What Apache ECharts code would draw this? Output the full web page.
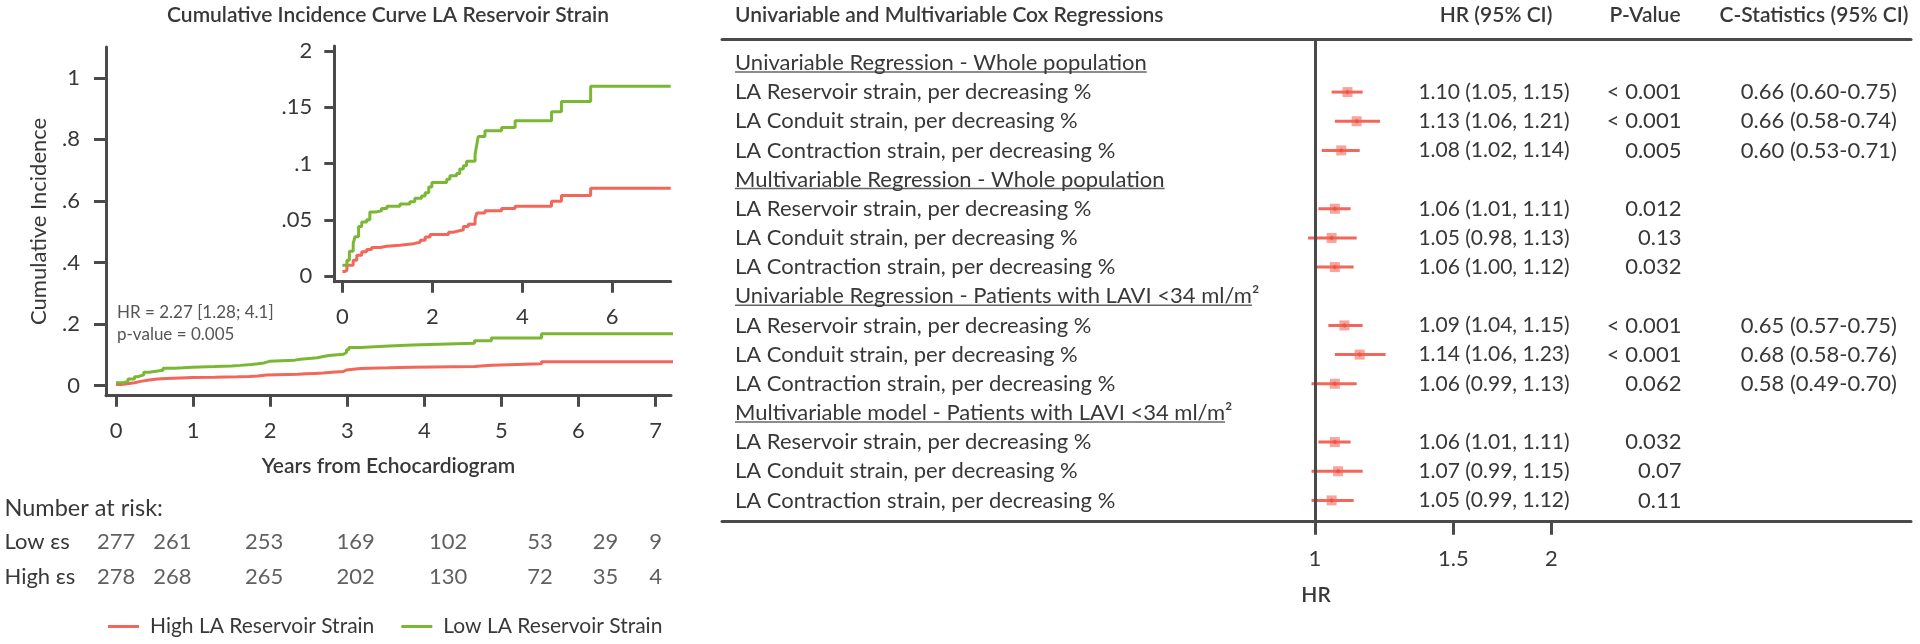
<!DOCTYPE html>
<html><head><meta charset="utf-8">
<script src="https://cdn.jsdelivr.net/npm/echarts@6/dist/echarts.min.js"></script>
<style>html,body{margin:0;padding:0;background:#fff}#c{width:1920px;height:644px}</style>
</head><body><div id="c"></div>
<script>
// ---------------- DATA ----------------
// Cumulative incidence step curves: [years, incidence]
const highStrain = [[0,0.004],[0.05,0.005],[0.1,0.0097],[0.24,0.014],[0.32,0.0185],[0.43,0.0215],[0.54,0.0235],[0.65,0.0253],[0.84,0.0265],[0.99,0.0274],[1.28,0.0288],[1.58,0.030],[1.73,0.0318],[1.84,0.0347],[1.95,0.037],[2.36,0.039],[2.47,0.040],[2.58,0.041],[2.69,0.044],[2.8,0.046],[2.95,0.051],[2.99,0.056],[3.17,0.058],[3.54,0.060],[3.84,0.062],[4.65,0.0665],[4.87,0.0715],[5.52,0.078],[7.3,0.078]];
const lowStrain = [[0,0.0097],[0.1,0.014],[0.155,0.022],[0.24,0.029],[0.28,0.035],[0.36,0.044],[0.43,0.048],[0.54,0.050],[0.61,0.057],[0.76,0.058],[0.87,0.060],[0.99,0.062],[1.28,0.064],[1.5,0.066],[1.61,0.069],[1.76,0.071],[1.84,0.074],[1.92,0.079],[1.99,0.083],[2.32,0.086],[2.39,0.089],[2.54,0.091],[2.61,0.095],[2.69,0.098],[2.76,0.102],[2.95,0.108],[2.99,0.117],[3.02,0.124],[3.17,0.129],[3.54,0.132],[3.84,0.138],[4.65,0.146],[4.87,0.155],[5.52,0.1685],[7.3,0.1685]];
const seriesNames = ['High LA Reservoir Strain','Low LA Reservoir Strain'];
const mainXTicks = [0,1,2,3,4,5,6,7];
const mainYTicks = [0,0.2,0.4,0.6,0.8,1];
const insetXTicks = [0,2,4,6];
const insetYTicks = [0,0.05,0.1,0.15,0.2];
const insetYLabels = ['0','.05','.1','.15','2'];
const hrLines = ['HR = 2.27 [1.28; 4.1]','p-value = 0.005'];
// Number at risk
const riskGroups = ['Low εs','High εs'];
const riskTimes = [0,0.73,1.92,3.11,4.31,5.5,6.35,7];
const riskLow = [277,261,253,169,102,53,29,9];
const riskHigh = [278,268,265,202,130,72,35,4];
// Forest plot rows (headers have null estimates)
const forestLabels = [
 'Univariable Regression - Whole population',
 'LA Reservoir strain, per decreasing %','LA Conduit strain, per decreasing %','LA Contraction strain, per decreasing %',
 'Multivariable Regression - Whole population',
 'LA Reservoir strain, per decreasing %','LA Conduit strain, per decreasing %','LA Contraction strain, per decreasing %',
 'Univariable Regression - Patients with LAVI <34 ml/m²',
 'LA Reservoir strain, per decreasing %','LA Conduit strain, per decreasing %','LA Contraction strain, per decreasing %',
 'Multivariable model - Patients with LAVI <34 ml/m²',
 'LA Reservoir strain, per decreasing %','LA Conduit strain, per decreasing %','LA Contraction strain, per decreasing %'
];
const hrEst  = [null,1.10,1.13,1.08,null,1.06,1.05,1.06,null,1.09,1.14,1.06,null,1.06,1.07,1.05];
const hrLow  = [null,1.05,1.06,1.02,null,1.01,0.98,1.00,null,1.04,1.06,0.99,null,1.01,0.99,0.99];
const hrHigh = [null,1.15,1.21,1.14,null,1.11,1.13,1.12,null,1.15,1.23,1.13,null,1.11,1.15,1.12];
const pValues = ['','< 0.001','< 0.001','0.005','','0.012','0.13','0.032','','< 0.001','< 0.001','0.062','','0.032','0.07','0.11'];
const cStats = ['','0.66 (0.60-0.75)','0.66 (0.58-0.74)','0.60 (0.53-0.71)','','','','','','0.65 (0.57-0.75)','0.68 (0.58-0.76)','0.58 (0.49-0.70)','','','',''];
const forestTicks = [1,1.5,2];
const columnHeads = ['HR (95% CI)','P-Value','C-Statistics (95% CI)'];

// ---------------- STYLE ----------------
const FF = 'Lato, "Open Sans", sans-serif';
const TXT = '#383838';
const AX = '#4a4a4a';
const RED = '#f2675a';
const GREEN = '#7ab834';
const FS = 22;
const HEAD = '600 21px ' + FF;

const rowIdx = forestLabels.map((_, i) => i);
const hrText = hrEst.map((e, i) => e == null ? '' : `${e.toFixed(2)} (${hrLow[i].toFixed(2)}, ${hrHigh[i].toFixed(2)})`);

const chart = echarts.init(document.getElementById('c'));

function valAxis(o) {
  return Object.assign({
    type: 'value', splitLine: {show: false},
    axisLine: {show: true, onZero: false, lineStyle: {color: AX, width: 3}},
    axisTick: {show: true, lineStyle: {color: AX, width: 3}},
    axisLabel: {color: TXT, fontSize: FS, fontFamily: FF}
  }, o);
}
function forestCol(o, texts) {
  return Object.assign({
    type: 'value', gridIndex: 3, inverse: true, min: -0.81, max: 15.73,
    axisLine: {show: false, onZero: false}, axisTick: {show: false}, splitLine: {show: false},
    axisLabel: Object.assign({customValues: rowIdx, formatter: v => texts[v] || '', color: TXT, fontSize: FS, fontFamily: FF}, o.axisLabel || {})
  }, o.base);
}

const option = {
  backgroundColor: '#fff',
  animation: false,
  textStyle: {fontFamily: FF},
  grid: [
    {left: 106, top: 47, width: 565, height: 348.7, outerBoundsMode: 'none'},
    {left: 334.3, top: 46, width: 336.4, height: 235.7, outerBoundsMode: 'none'},
    {left: 106, top: 524.2, width: 565, height: 70, outerBoundsMode: 'none'},
    {left: 722, top: 39.3, width: 1189, height: 482.4, outerBoundsMode: 'none'}
  ],
  xAxis: [
    valAxis({gridIndex: 0, min: -0.13, max: 7.2,
      axisTick: {show: true, customValues: mainXTicks, length: 11, lineStyle: {color: AX, width: 3}},
      axisLabel: {customValues: mainXTicks, margin: 24, color: TXT, fontSize: FS, fontFamily: FF},
      name: 'Years from Echocardiogram', nameLocation: 'middle', nameGap: 60,
      nameTextStyle: {color: TXT, fontSize: 21, fontWeight: 600, fontFamily: FF}}),
    valAxis({gridIndex: 1, min: -0.18, max: 7.3,
      axisTick: {show: true, customValues: insetXTicks, length: 11, lineStyle: {color: AX, width: 3}},
      axisLabel: {customValues: insetXTicks, margin: 24, color: TXT, fontSize: FS, fontFamily: FF}}),
    {type: 'value', gridIndex: 2, min: -0.13, max: 7.2, show: false},
    {type: 'log', gridIndex: 3, min: 0.1759, max: 5.736, splitLine: {show: false},
      axisLine: {show: true, onZero: false, lineStyle: {color: AX, width: 3}},
      axisTick: {show: true, customValues: forestTicks, length: 13, lineStyle: {color: AX, width: 3}},
      axisLabel: {customValues: forestTicks, formatter: v => String(v), margin: 26, color: TXT, fontSize: FS, fontFamily: FF}},
    {type: 'log', gridIndex: 3, position: 'top', min: 0.1759, max: 5.736, splitLine: {show: false},
      axisLine: {show: true, onZero: false, lineStyle: {color: AX, width: 3}},
      axisTick: {show: false}, axisLabel: {show: false}}
  ],
  yAxis: [
    valAxis({gridIndex: 0, min: -0.0325, max: 1.1,
      axisTick: {show: true, customValues: mainYTicks, length: 12, lineStyle: {color: AX, width: 3}},
      axisLabel: {customValues: mainYTicks, margin: 26, formatter: v => String(v).replace(/^0\./, '.'), color: TXT, fontSize: FS, fontFamily: FF},
      name: 'Cumulative Incidence', nameLocation: 'middle', nameGap: 56,
      nameTextStyle: {color: TXT, fontSize: FS, fontFamily: FF}}),
    valAxis({gridIndex: 1, min: -0.005, max: 0.2043,
      axisTick: {show: true, customValues: insetYTicks, length: 10, lineStyle: {color: AX, width: 3}},
      axisLabel: {customValues: insetYTicks, margin: 22, formatter: v => insetYLabels[insetYTicks.indexOf(v)], color: TXT, fontSize: FS, fontFamily: FF}}),
    {type: 'category', gridIndex: 2, data: riskGroups, inverse: true,
      axisLine: {show: false}, axisTick: {show: false},
      axisLabel: {align: 'left', margin: 101.5, color: TXT, fontSize: FS, fontFamily: FF}},
    forestCol({base: {position: 'left'}, axisLabel: {align: 'left', margin: -13}}, forestLabels),
    forestCol({base: {position: 'right', offset: -341.4}, axisLabel: {align: 'right', margin: 0, fontSize: 21}}, hrText),
    forestCol({base: {position: 'right', offset: -229.6}, axisLabel: {align: 'right', margin: 0}}, pValues),
    forestCol({base: {position: 'right', offset: -14.2}, axisLabel: {align: 'right', margin: 0}}, cStats)
  ],
  legend: {
    data: seriesNames, left: 103, top: 611, icon: 'rect', itemWidth: 31, itemHeight: 3, itemGap: 27,
    textStyle: {color: TXT, fontSize: 21, fontFamily: FF, padding: [0, 0, 0, 6]}
  },
  series: [
    {name: seriesNames[0], type: 'line', xAxisIndex: 0, yAxisIndex: 0, data: highStrain, step: 'end', symbol: 'none', color: RED, lineStyle: {width: 3, color: RED}, silent: true},
    {name: seriesNames[1], type: 'line', xAxisIndex: 0, yAxisIndex: 0, data: lowStrain, step: 'end', symbol: 'none', color: GREEN, lineStyle: {width: 3, color: GREEN}, silent: true},
    {name: seriesNames[0], type: 'line', xAxisIndex: 1, yAxisIndex: 1, data: highStrain, step: 'end', symbol: 'none', color: RED, lineStyle: {width: 3, color: RED}, silent: true},
    {name: seriesNames[1], type: 'line', xAxisIndex: 1, yAxisIndex: 1, data: lowStrain, step: 'end', symbol: 'none', color: GREEN, lineStyle: {width: 3, color: GREEN}, silent: true},
    {type: 'scatter', xAxisIndex: 2, yAxisIndex: 2, symbolSize: 0, silent: true,
      data: riskTimes.map((t, i) => [t, riskGroups[0], riskLow[i]]),
      label: {show: true, position: 'inside', formatter: p => p.data[2], color: TXT, fontSize: FS, fontFamily: FF}},
    {type: 'scatter', xAxisIndex: 2, yAxisIndex: 2, symbolSize: 0, silent: true,
      data: riskTimes.map((t, i) => [t, riskGroups[1], riskHigh[i]]),
      label: {show: true, position: 'inside', formatter: p => p.data[2], color: TXT, fontSize: FS, fontFamily: FF}},
    {type: 'custom', xAxisIndex: 3, yAxisIndex: 3, silent: true, z: 3,
      data: rowIdx.filter(i => hrEst[i] != null).map(i => [hrLow[i], hrHigh[i], i]),
      encode: {x: [0, 1], y: 2},
      renderItem: (params, api) => {
        const y = api.value(2);
        const a = api.coord([api.value(0), y]);
        const b = api.coord([api.value(1), y]);
        return {type: 'line', shape: {x1: a[0], y1: a[1], x2: b[0], y2: b[1]}, style: {stroke: RED, lineWidth: 3}};
      }},
    {type: 'scatter', xAxisIndex: 3, yAxisIndex: 3, silent: true, z: 4,
      data: rowIdx.filter(i => hrEst[i] != null).map(i => [hrEst[i], i]),
      symbol: 'rect', symbolSize: 10, itemStyle: {color: 'rgba(242,103,90,0.75)'},
      markLine: {silent: true, symbol: ['none', 'none'], label: {show: false},
        lineStyle: {color: AX, width: 3, type: 'solid'}, emphasis: {disabled: true},
        data: [{xAxis: forestTicks[0]}]}},
    {type: 'scatter', xAxisIndex: 3, yAxisIndex: 3, silent: true, z: 5,
      data: rowIdx.filter(i => hrEst[i] != null).map(i => [hrEst[i], i]),
      symbol: 'diamond', symbolSize: 5, itemStyle: {color: '#e8503f'}}
  ]
};
chart.setOption(option);

// text elements and header underlines
const ctx = document.createElement('canvas').getContext('2d');
ctx.font = FS + 'px ' + FF;
const graphics = [
  {type: 'text', x: 388, y: 15, style: {text: 'Cumulative Incidence Curve LA Reservoir Strain', font: HEAD, fill: TXT, align: 'center', verticalAlign: 'middle'}},
  {type: 'text', x: 735, y: 15, style: {text: 'Univariable and Multivariable Cox Regressions', font: HEAD, fill: TXT, align: 'left', verticalAlign: 'middle'}},
  {type: 'text', x: 1496, y: 15, style: {text: columnHeads[0], font: HEAD, fill: TXT, align: 'center', verticalAlign: 'middle'}},
  {type: 'text', x: 1645, y: 15, style: {text: columnHeads[1], font: HEAD, fill: TXT, align: 'center', verticalAlign: 'middle'}},
  {type: 'text', x: 1814, y: 15, style: {text: columnHeads[2], font: HEAD, fill: TXT, align: 'center', verticalAlign: 'middle'}},
  {type: 'text', x: 4.5, y: 508, style: {text: 'Number at risk:', font: '23.5px ' + FF, fill: TXT, align: 'left', verticalAlign: 'middle'}},
  {type: 'text', x: 117, y: 313, style: {text: hrLines[0], font: '17px ' + FF, fill: '#555', align: 'left', verticalAlign: 'middle'}},
  {type: 'text', x: 117, y: 335, style: {text: hrLines[1], font: '17px ' + FF, fill: '#555', align: 'left', verticalAlign: 'middle'}},
  {type: 'text', x: 1316, y: 595, style: {text: 'HR', font: HEAD, fill: TXT, align: 'center', verticalAlign: 'middle'}}
];
rowIdx.filter(i => hrEst[i] == null).forEach(i => {
  const y = chart.convertToPixel({yAxisIndex: 3}, i);
  const w = ctx.measureText(forestLabels[i].replace('²', '')).width;
  graphics.push({type: 'line', shape: {x1: 735, y1: y + 9, x2: 735 + w, y2: y + 9}, style: {stroke: '#666', lineWidth: 1.5}});
});
chart.setOption({graphic: graphics});
</script></body></html>
